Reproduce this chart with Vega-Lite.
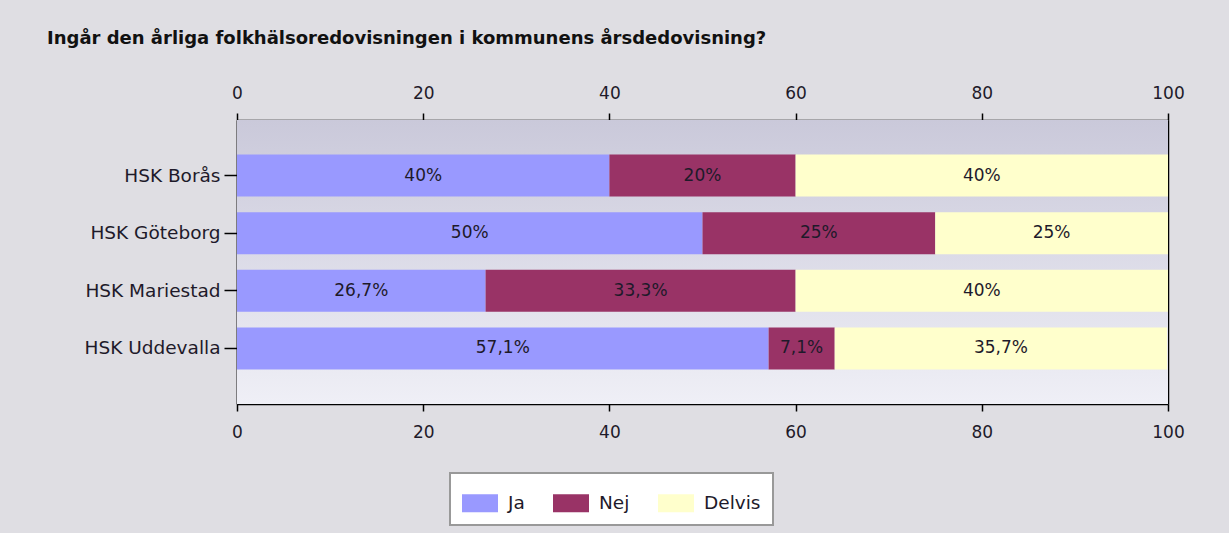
{
  "$schema": "https://vega.github.io/schema/vega-lite/v6.json",
  "autosize": {"type": "none"},
  "padding": {"left": 237, "top": 120, "right": 61, "bottom": 129},
  "width": 931,
  "height": 284,
  "background": "#dfdee3",
  "config": {
    "font": "DejaVu Sans",
    "view": {"stroke": null}
  },
  "title": {
    "text": "Ingår den årliga folkhälsoredovisningen i kommunens årsdedovisning?",
    "anchor": "start",
    "frame": "group",
    "dx": -190,
    "offset": 36,
    "font": "DejaVu Sans",
    "fontSize": 18,
    "fontWeight": "bold",
    "color": "#111111"
  },
  "layer": [
    {
      "data": {"values": [{"bakgrund": 1}]},
      "mark": {
        "type": "rect",
        "color": {"gradient": "linear", "x1": 0, "y1": 0, "x2": 0, "y2": 1,
          "stops": [{"offset": 0, "color": "#cac9da"}, {"offset": 1, "color": "#efeff6"}]}
      },
      "encoding": {
        "x": {"datum": 0, "type": "quantitative", "scale": {"domain": [0, 100], "nice": false}, "axis": null},
        "x2": {"datum": 100}
      }
    },
    {
      "data": {"name": "svar", "values": [
        {"kommun": "HSK Borås", "svar": "Ja", "andel": 40},
        {"kommun": "HSK Borås", "svar": "Nej", "andel": 20},
        {"kommun": "HSK Borås", "svar": "Delvis", "andel": 40},
        {"kommun": "HSK Göteborg", "svar": "Ja", "andel": 50},
        {"kommun": "HSK Göteborg", "svar": "Nej", "andel": 25},
        {"kommun": "HSK Göteborg", "svar": "Delvis", "andel": 25},
        {"kommun": "HSK Mariestad", "svar": "Ja", "andel": 26.7},
        {"kommun": "HSK Mariestad", "svar": "Nej", "andel": 33.3},
        {"kommun": "HSK Mariestad", "svar": "Delvis", "andel": 40},
        {"kommun": "HSK Uddevalla", "svar": "Ja", "andel": 57.1},
        {"kommun": "HSK Uddevalla", "svar": "Nej", "andel": 7.1},
        {"kommun": "HSK Uddevalla", "svar": "Delvis", "andel": 35.7}
      ]},
      "transform": [
        {"calculate": "indexof(['Ja','Nej','Delvis'], datum.svar)", "as": "idx"},
        {"stack": "andel", "groupby": ["kommun"], "sort": [{"field": "idx", "order": "ascending"}], "as": ["x0", "x1"]},
        {"calculate": "(datum.x0 + datum.x1) / 2", "as": "xm"},
        {"calculate": "replace(format(datum.andel, '.1~f'), '.', ',') + '%'", "as": "etikett"}
      ],
      "encoding": {
        "y": {
          "field": "kommun", "type": "nominal", "sort": null,
          "scale": {"paddingInner": 0.27, "paddingOuter": 0.6},
          "axis": {
            "title": null, "domainColor": "#000000", "domainWidth": 1.5,
            "tickColor": "#000000", "tickWidth": 1.5, "tickSize": 13,
            "labelPadding": 4, "labelFontSize": 18.5, "labelColor": "#1e1a2a",
            "labelFont": "DejaVu Sans"
          }
        }
      },
      "layer": [
        {
          "mark": {"type": "bar"},
          "encoding": {
            "x": {
              "field": "x0", "type": "quantitative",
              "scale": {"domain": [0, 100], "nice": false},
              "axis": {
                "orient": "bottom", "title": null, "values": [0, 20, 40, 60, 80, 100],
                "grid": true, "gridColor": "#000000", "gridWidth": 1.5, "gridOpacity": 1,
                "domainColor": "#000000", "domainWidth": 1.5,
                "tickColor": "#000000", "tickWidth": 1.5, "tickSize": 7,
                "labelPadding": 13, "labelFontSize": 17, "labelColor": "#1e1a2a",
                "labelFont": "DejaVu Sans", "labelFlush": false
              }
            },
            "x2": {"field": "x1"},
            "color": {
              "field": "svar", "type": "nominal",
              "scale": {"domain": ["Ja", "Nej", "Delvis"], "range": ["#9999ff", "#993366", "#ffffcc"]},
              "legend": {
                "title": null, "orient": "none", "direction": "horizontal",
                "legendX": 213, "legendY": 353,
                "fillColor": "#ffffff", "strokeColor": "#999999",
                "padding": 12, "symbolType": "M-1,-0.5H1V0.5H-1Z", "symbolSize": 1296,
                "symbolStrokeWidth": 0, "symbolOpacity": 1,
                "labelFontSize": 18.5, "labelFont": "DejaVu Sans", "labelColor": "#1e1a2a",
                "labelOffset": 10, "columnPadding": 28,
                "encode": {"legend": {"update": {"strokeWidth": {"value": 2}}}}
              }
            }
          }
        },
        {
          "mark": {"type": "text", "fontSize": 17, "color": "#1e1a2a", "baseline": "middle", "align": "center"},
          "encoding": {
            "x": {
              "field": "xm", "type": "quantitative",
              "scale": {"domain": [0, 100], "nice": false},
              "axis": {
                "orient": "top", "title": null, "values": [0, 20, 40, 60, 80, 100],
                "grid": false,
                "domainColor": "#000000", "domainWidth": 1.5,
                "tickColor": "#000000", "tickWidth": 1.5, "tickSize": 7,
                "labelPadding": 11, "labelFontSize": 17, "labelColor": "#1e1a2a",
                "labelFont": "DejaVu Sans", "labelFlush": false
              }
            },
            "text": {"field": "etikett", "type": "nominal"}
          }
        }
      ]
    }
  ],
  "resolve": {"axis": {"x": "independent"}}
}
